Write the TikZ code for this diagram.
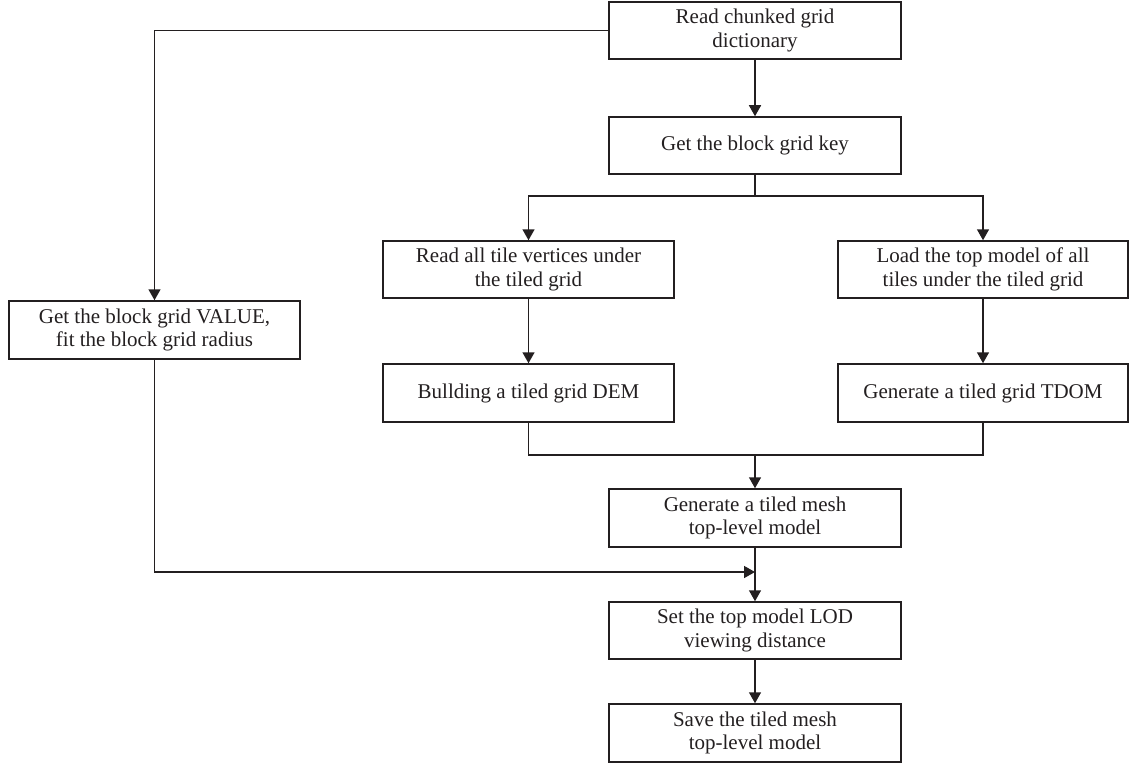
\documentclass[tikz,border=0pt]{standalone}
\usepackage{fontspec}
\setmainfont{Liberation Serif}
\usetikzlibrary{arrows.meta}
\definecolor{ink}{HTML}{231F20}
\begin{document}
\begin{tikzpicture}[x=1pt,y=1pt,
  box/.style={draw=ink, line width=1.5pt, minimum width=292pt, minimum height=57pt,
    inner sep=2pt, align=center, text=ink, font=\fontsize{21}{23.5}\selectfont},
  conn/.style={draw=ink, line width=1.5pt},
  arr/.style={conn, -{Triangle[width=12pt,length=11pt]}}]
\useasboundingbox (0,0) rectangle (1129,-765);
\node[box] (b1) at (755,-30.5) {Read chunked grid\\dictionary};
\node[box] (b2) at (755,-145.5) {Get the block grid key};
\node[box, minimum width=291pt] (b3) at (528.5,-269.5) {Read all tile vertices under\\the tiled grid};
\node[box, minimum width=290pt] (b4) at (983,-269.5) {Load the top model of all\\tiles under the tiled grid};
\node[box, minimum width=291pt, minimum height=58pt] (b5) at (154.5,-330) {Get the block grid VALUE,\\fit the block grid radius};
\node[box, minimum width=291pt, minimum height=58pt] (b6) at (528.5,-393) {Bullding a tiled grid DEM};
\node[box, minimum width=290pt, minimum height=58pt] (b7) at (983,-393) {Generate a tiled grid TDOM};
\node[box, minimum height=58pt] (b8) at (755,-518) {Generate a tiled mesh\\top-level model};
\node[box] (b9) at (755,-630.5) {Set the top model LOD\\viewing distance};
\node[box, minimum height=58pt] (b10) at (755,-733) {Save the tiled mesh\\top-level model};
\coordinate (sp) at (755,-196);
\coordinate (mg) at (755,-455);
\coordinate (jn) at (755,-572);
\draw[arr] (b1) -- (b2);
\draw[arr] (b1.west) -| (b5.north);
\draw[conn] (b2.south) -- (sp);
\draw[arr] (sp) -| (b3.north);
\draw[arr] (sp) -| (b4.north);
\draw[arr] (b3) -- (b6);
\draw[arr] (b4) -- (b7);
\draw[conn] (b6.south) |- (mg);
\draw[conn] (b7.south) |- (mg);
\draw[arr] (mg) -- (b8.north);
\draw[arr] (b8) -- (b9);
\draw[arr] (b5.south) |- (jn);
\draw[arr] (b9) -- (b10);
\end{tikzpicture}
\end{document}
